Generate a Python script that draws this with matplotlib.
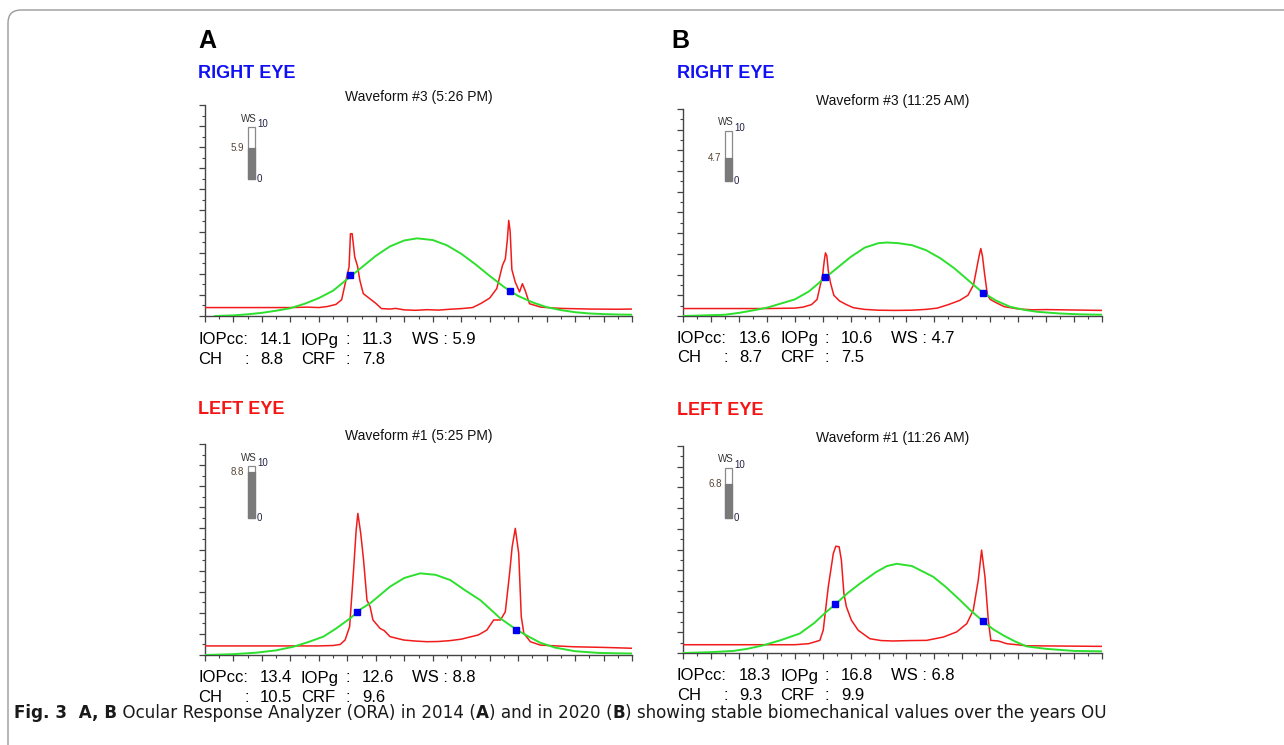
import matplotlib
matplotlib.use("Agg")
import matplotlib.pyplot as plt
from matplotlib import font_manager
from matplotlib.patches import Rectangle, FancyBboxPatch

W, H = 1284, 745

# ---- data (x: 0..15, y: 0..10) ----
# A, right eye
tl_green_x = [0.35, 1.0, 1.5, 2.0, 2.5, 3.0, 3.5, 4.0, 4.5, 5.0, 5.5, 6.0, 6.5, 7.0, 7.45, 8.0, 8.5,
              9.0, 9.5, 10.0, 10.5, 11.0, 11.5, 12.0, 12.5, 13.0, 13.5, 14.0, 14.5, 15.0]
tl_green_y = [0.0, 0.03, 0.08, 0.15, 0.25, 0.37, 0.58, 0.85, 1.2, 1.75, 2.3, 2.85, 3.3, 3.58, 3.68, 3.6, 3.35,
              2.95, 2.45, 1.9, 1.38, 0.95, 0.65, 0.42, 0.28, 0.18, 0.12, 0.09, 0.07, 0.06]
tl_red_x = [0, 2, 3.0, 3.6, 4.0, 4.3, 4.6, 4.8, 4.95, 5.06, 5.11, 5.17, 5.26, 5.36, 5.44, 5.56, 5.79, 6.0,
            6.2, 6.5, 6.7, 7.0, 7.4, 7.8, 8.2, 8.6, 9.0, 9.4, 9.7, 10.0, 10.25, 10.45, 10.55, 10.62, 10.67,
            10.72, 10.78, 10.9, 11.05, 11.15, 11.25, 11.4, 11.8, 12.5, 13.5, 14.5, 15.0]
tl_red_y = [0.40, 0.40, 0.40, 0.42, 0.40, 0.45, 0.55, 0.77, 1.69, 2.32, 3.9, 3.9, 2.8, 2.35, 1.69, 1.06, 0.82, 0.6,
            0.35, 0.33, 0.36, 0.29, 0.27, 0.3, 0.28, 0.32, 0.35, 0.4, 0.6, 0.85, 1.3, 2.4, 2.7, 3.6, 4.53,
            4.0, 2.2, 1.6, 1.14, 1.53, 1.2, 0.58, 0.42, 0.36, 0.33, 0.32, 0.33]
tl_marks_x = [5.09, 10.70]
tl_marks_y = [1.93, 1.17]

# B, right eye
tr_green_x = [0, 1.5, 2.0, 2.5, 3.0, 3.5, 4.0, 4.5, 5.0, 5.5, 6.0, 6.5, 7.0, 7.3, 7.7, 8.2, 8.7, 9.2, 9.7,
              10.2, 10.7, 11.2, 11.7, 12.2, 12.7, 13.5, 14.2, 15.0]
tr_green_y = [0.0, 0.06, 0.15, 0.27, 0.4, 0.6, 0.8, 1.18, 1.75, 2.3, 2.85, 3.3, 3.52, 3.55, 3.52, 3.42, 3.18, 2.8, 2.32,
              1.74, 1.16, 0.75, 0.45, 0.3, 0.2, 0.12, 0.08, 0.06]
tr_red_x = [0, 2, 3.0, 4.0, 4.3, 4.6, 4.8, 4.9, 5.0, 5.06, 5.1, 5.15, 5.2, 5.28, 5.4, 5.6, 5.85, 6.1, 6.5, 7.0,
            7.6, 8.2, 8.7, 9.1, 9.5, 9.9, 10.2, 10.4, 10.5, 10.6, 10.66, 10.72, 10.8, 10.9, 11.0, 11.2, 11.5,
            12.0, 12.5, 13.0, 14.0, 15.0]
tr_red_y = [0.36, 0.36, 0.36, 0.38, 0.43, 0.55, 0.8, 1.4, 2.0, 2.7, 3.05, 2.9, 2.2, 1.6, 1.0, 0.73, 0.55, 0.4, 0.32, 0.28,
            0.27, 0.28, 0.32, 0.38, 0.55, 0.75, 1.0, 1.5, 2.2, 2.9, 3.26, 2.9, 2.0, 1.0, 0.8, 0.65, 0.45,
            0.34, 0.3, 0.31, 0.29, 0.27]
tr_marks_x = [5.08, 10.73]
tr_marks_y = [1.87, 1.13]

# A, left eye
bl_green_x = [0, 1.0, 1.8, 2.5, 3.1, 3.6, 4.16, 4.6, 5.1, 5.5, 5.8, 6.2, 6.5, 7.0, 7.56, 8.1, 8.62, 9.1,
              9.67, 10.0, 10.37, 10.94, 11.4, 11.78, 12.3, 13.0, 13.8, 14.5, 15.0]
bl_green_y = [0.0, 0.04, 0.11, 0.22, 0.39, 0.6, 0.87, 1.25, 1.74, 2.2, 2.45, 2.9, 3.24, 3.65, 3.87, 3.8, 3.55, 3.1,
              2.6, 2.2, 1.74, 1.2, 0.85, 0.58, 0.35, 0.18, 0.1, 0.08, 0.07]
bl_red_x = [0, 2, 4.0, 4.5, 4.75, 4.92, 5.08, 5.22, 5.31, 5.37, 5.47, 5.57, 5.69, 5.8, 5.9, 6.15, 6.3, 6.5,
            6.98, 7.4, 7.8, 8.2, 8.6, 9.0, 9.3, 9.6, 9.9, 10.14, 10.38, 10.55, 10.7, 10.79, 10.9, 11.02,
            11.11, 11.2, 11.43, 11.78, 12.95, 14.0, 15.0]
bl_red_y = [0.43, 0.43, 0.43, 0.45, 0.5, 0.71, 1.34, 4.03, 5.92, 6.71, 5.77, 4.5, 2.6, 2.29, 1.66, 1.26, 1.15, 0.87,
            0.71, 0.66, 0.63, 0.64, 0.68, 0.75, 0.85, 0.95, 1.18, 1.66, 1.66, 2.05, 3.87, 5.13, 6.0, 4.82,
            1.82, 1.03, 0.63, 0.47, 0.39, 0.36, 0.32]
bl_marks_x = [5.33, 10.94]
bl_marks_y = [2.05, 1.18]

# B, left eye
br_green_x = [0, 1.0, 1.8, 2.3, 2.87, 3.5, 4.18, 4.7, 5.1, 5.44, 5.9, 6.33, 6.9, 7.3, 7.65, 8.2, 8.96, 9.4,
              9.92, 10.3, 10.73, 11.1, 11.47, 11.9, 12.3, 13.0, 14.0, 15.0]
br_green_y = [0.0, 0.04, 0.1, 0.2, 0.37, 0.62, 0.94, 1.45, 1.95, 2.34, 2.9, 3.35, 3.9, 4.2, 4.31, 4.2, 3.68, 3.2,
              2.55, 2.05, 1.55, 1.15, 0.85, 0.55, 0.32, 0.2, 0.1, 0.08]
br_red_x = [0, 2, 4.0, 4.5, 4.9, 5.02, 5.2, 5.38, 5.47, 5.59, 5.67, 5.76, 5.85, 6.03, 6.27, 6.69, 7.1, 7.53,
            8.1, 8.72, 9.32, 9.8, 10.16, 10.39, 10.57, 10.69, 10.81, 10.93, 11.02, 11.29, 11.59, 12.3, 15.0]
br_red_y = [0.40, 0.40, 0.40, 0.45, 0.61, 1.1, 3.19, 4.8, 5.16, 5.13, 4.48, 2.87, 2.23, 1.58, 1.1, 0.69, 0.6, 0.58,
            0.6, 0.61, 0.77, 1.02, 1.42, 2.06, 3.52, 4.97, 3.68, 1.58, 0.61, 0.58, 0.45, 0.35, 0.32]
br_marks_x = [5.44, 10.73]
br_marks_y = [2.35, 1.55]

titles = ["Waveform #3 (5:26 PM)", "Waveform #3 (11:25 AM)", "Waveform #1 (5:25 PM)", "Waveform #1 (11:26 AM)"]
ws_vals = [5.9, 4.7, 8.8, 6.8]
iopcc = ["14.1", "13.6", "13.4", "18.3"]
iopg = ["11.3", "10.6", "12.6", "16.8"]
ch = ["8.8", "8.7", "10.5", "9.3"]
crf = ["7.8", "7.5", "9.6", "9.9"]

panels = [
    (tl_green_x, tl_green_y, tl_red_x, tl_red_y, tl_marks_x, tl_marks_y),
    (tr_green_x, tr_green_y, tr_red_x, tr_red_y, tr_marks_x, tr_marks_y),
    (bl_green_x, bl_green_y, bl_red_x, bl_red_y, bl_marks_x, bl_marks_y),
    (br_green_x, br_green_y, br_red_x, br_red_y, br_marks_x, br_marks_y),
]

# axes boxes in pixels: left, top, right, bottom
boxes = [(205, 105, 632, 316), (683, 109, 1102, 316), (205, 444, 632, 655), (683, 446, 1102, 653)]
title_y = [97, 101, 436, 438]
read_y = [340, 338, 678, 676]
read_x0 = [198, 677, 198, 677]

RED = "#f21b1b"
GREEN = "#2ee02e"
BLUE = "#0000f0"
SANS = "Liberation Sans"

fig = plt.figure(figsize=(W / 100, H / 100), dpi=100)


def fx(px):
    return px / W


def fy(py):
    return 1 - py / H


def put(px, py, s, **kw):
    kw.setdefault("family", SANS)
    return fig.text(fx(px), fy(py), s, va="center", **kw)


# outer rounded frame
frame = FancyBboxPatch((0.08, -1.0), 14.0, 8.35, boxstyle="round,pad=0,rounding_size=0.13",
                       transform=fig.dpi_scale_trans, fill=False, edgecolor="#9a9a9a", lw=1.0)
fig.patches.append(frame)

for i, (gx, gy, rx, ry, mx, my) in enumerate(panels):
    l, t, r, b = boxes[i]
    ax = fig.add_axes([fx(l), fy(b), (r - l) / W, (b - t) / H])
    ax.set_xlim(0, 15)
    ax.set_ylim(0, 10)
    ax.plot(rx, ry, color=RED, lw=1.1, zorder=3)
    ax.plot(gx, gy, color=GREEN, lw=1.4, zorder=4)
    ax.plot(mx, my, "s", color=BLUE, ms=4.5, zorder=5)
    for side in ("top", "right"):
        ax.spines[side].set_visible(False)
    for side in ("left", "bottom"):
        ax.spines[side].set_color("#444444")
        ax.spines[side].set_linewidth(1.0)
    ax.set_xticks(range(0, 16))
    ax.set_xticks([k + 0.5 for k in range(15)], minor=True)
    ax.set_yticks(range(0, 11))
    ax.set_yticks([k + 0.5 for k in range(10)], minor=True)
    ax.tick_params(which="major", length=4, width=0.9, color="#444444", labelbottom=False, labelleft=False)
    ax.tick_params(which="minor", length=2, width=0.8, color="#444444")
    ax.patch.set_alpha(0)

    # WS gauge
    gx0, gw, gy0, gh = 0.100, 0.016, 0.65, 0.245
    ax.add_patch(Rectangle((gx0, gy0), gw, gh, transform=ax.transAxes, facecolor="white",
                           edgecolor="#8a8a8a", lw=0.9, zorder=6))
    ax.add_patch(Rectangle((gx0, gy0), gw, gh * ws_vals[i] / 10, transform=ax.transAxes,
                           facecolor="#7a7a7a", edgecolor="#7a7a7a", lw=0.9, zorder=7))
    ax.text(gx0 + gw * 0.2, gy0 + gh + 0.04, "WS", transform=ax.transAxes, ha="center", va="center",
            fontsize=7, family=SANS, color="#333333")
    ax.text(gx0 + gw + 0.006, gy0 + gh + 0.015, "10", transform=ax.transAxes, ha="left", va="center",
            fontsize=7, family=SANS, color="#222244")
    ax.text(gx0 + gw + 0.006, gy0, "0", transform=ax.transAxes, ha="left", va="center",
            fontsize=7, family=SANS, color="#222244")
    ax.text(gx0 - 0.008, gy0 + gh * ws_vals[i] / 10, "%.1f" % ws_vals[i], transform=ax.transAxes,
            ha="right", va="center", fontsize=7, family=SANS, color="#554433")

    put((l + r) / 2, title_y[i], titles[i], ha="center", fontsize=10, color="#111111")

    x0, y0 = read_x0[i], read_y[i]
    y1 = y0 + 20
    fsz = 12
    put(x0, y0, "IOPcc:", fontsize=fsz)
    put(x0 + 62, y0, iopcc[i], fontsize=fsz)
    put(x0 + 103, y0, "IOPg", fontsize=fsz)
    put(x0 + 148, y0, ":", fontsize=fsz)
    put(x0 + 164, y0, iopg[i], fontsize=fsz)
    put(x0 + 214, y0, "WS : %.1f" % ws_vals[i], fontsize=fsz)
    put(x0, y1, "CH", fontsize=fsz)
    put(x0 + 47, y1, ":", fontsize=fsz)
    put(x0 + 62, y1, ch[i], fontsize=fsz)
    put(x0 + 103, y1, "CRF", fontsize=fsz)
    put(x0 + 148, y1, ":", fontsize=fsz)
    put(x0 + 164, y1, crf[i], fontsize=fsz)

# panel letters and eye labels
put(198, 41, "A", fontsize=18, weight="bold")
put(671, 41, "B", fontsize=18, weight="bold")
put(198, 74, "RIGHT EYE", fontsize=13, weight="bold", color="#1010f5")
put(677, 73, "RIGHT EYE", fontsize=13, weight="bold", color="#1010f5")
put(198, 410, "LEFT EYE", fontsize=13, weight="bold", color="#f51515")
put(677, 411, "LEFT EYE", fontsize=13, weight="bold", color="#f51515")

# caption, drawn piece by piece so bold and regular parts sit side by side
names = {f.name for f in font_manager.fontManager.ttflist}
cap_font = "Liberation Sans Narrow" if "Liberation Sans Narrow" in names else "DejaVu Sans"
pieces = [("Fig. 3", "bold"), ("  A, B", "bold"), (" Ocular Response Analyzer (ORA) in 2014 (", "normal"),
          ("A", "bold"), (") and in 2020 (", "normal"), ("B", "bold"),
          (") showing stable biomechanical values over the years OU", "normal")]


def draw_caption(size):
    fig.canvas.draw()
    renderer = fig.canvas.get_renderer()
    cx = 14
    made = []
    for s, w in pieces:
        t = put(cx, 713, s, fontsize=size, weight=w, family=cap_font, color="#1a1a1a")
        made.append(t)
        cx = t.get_window_extent(renderer).x1
    return made, cx


made, end = draw_caption(12.5)
for t in made:
    t.remove()
draw_caption(12.5 * (1110 - 14) / (end - 14))

fig.savefig("out.png", dpi=100)
